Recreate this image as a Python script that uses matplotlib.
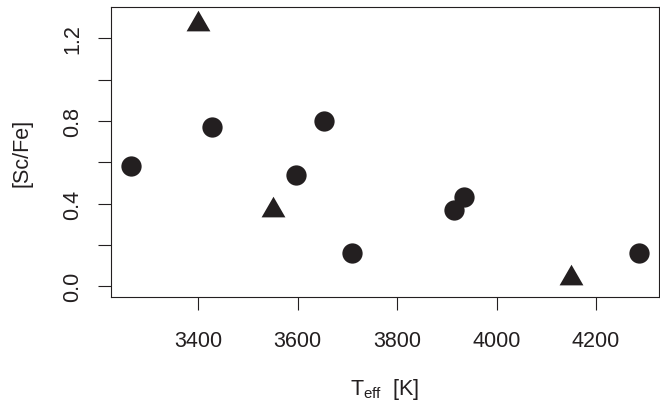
import matplotlib
matplotlib.use("Agg")
import matplotlib.pyplot as plt
from matplotlib.path import Path

INK = "#231f20"
FONT = "Liberation Sans"

plt.rcParams["font.family"] = [FONT, "DejaVu Sans"]
plt.rcParams["mathtext.fontset"] = "custom"
plt.rcParams["mathtext.rm"] = FONT
plt.rcParams["mathtext.it"] = FONT + ":italic"

# stars measured (circles) and upper/other set (triangles)
teff_circ = [3264, 3427, 3652, 3597, 3709, 3935, 3915, 4286]
scfe_circ = [0.58, 0.77, 0.80, 0.54, 0.16, 0.43, 0.37, 0.16]
teff_tri = [3400, 3550, 4150]
scfe_tri = [1.27, 0.37, 0.04]

x_ticks = [3400, 3600, 3800, 4000, 4200]
x_labels = ["3400", "3600", "3800", "4000", "4200"]
y_ticks = [0.0, 0.2, 0.4, 0.6, 0.8, 1.0, 1.2]
y_labels = ["0.0", "", "0.4", "", "0.8", "", "1.2"]

# R-style filled triangle (pch 17): centroid sits on the data point
TRI = Path([(0.0, 1.555), (1.347, -0.778), (-1.347, -0.778), (0.0, 1.555)],
           [Path.MOVETO, Path.LINETO, Path.LINETO, Path.CLOSEPOLY])

W, H = 660, 402
fig = plt.figure(figsize=(W / 100, H / 100), dpi=100)
ax = fig.add_axes([110.5 / W, (H - 298) / H, (659 - 110.5) / W, (298 - 8) / H])

ax.plot(teff_circ, scfe_circ, "o", ms=14.6, color=INK, mew=0, ls="none")
ax.plot(teff_tri, scfe_tri, marker=TRI, ms=19.8, color=INK, mew=0, ls="none")

# R default: 4% padding around the range
x0, x1 = min(teff_circ + teff_tri), max(teff_circ + teff_tri)
ax.set_xlim(x0 - 0.04 * (x1 - x0), x1 + 0.04 * (x1 - x0))
ax.set_ylim(0 - 0.04 * 1.3, 1.3 + 0.04 * 1.3)

ax.set_xticks(x_ticks)
ax.set_xticklabels(x_labels)
ax.set_yticks(y_ticks)
ax.set_yticklabels(y_labels)

for s in ax.spines.values():
    s.set_color(INK)
    s.set_linewidth(0.8)

ax.tick_params(axis="both", direction="out", length=9.6, width=0.8,
               colors=INK, labelsize=15.5, labelcolor=INK)
ax.tick_params(axis="x", pad=14.4)
ax.tick_params(axis="y", pad=10, labelrotation=90)
for lb in ax.get_yticklabels():
    lb.set_verticalalignment("center")

ax.set_xlabel(r"T$_{\mathrm{eff}}$  [K]", fontsize=15.5, color=INK,
              va="baseline")
ax.xaxis.set_label_coords(0.5, -(395.5 - 298) / 290)
ax.set_ylabel("[Sc/Fe]", fontsize=15.5, color=INK, va="baseline")
ax.yaxis.set_label_coords((28 - 110.5) / 548.5, 0.5)

fig.savefig("out.png", dpi=100, facecolor="white")
